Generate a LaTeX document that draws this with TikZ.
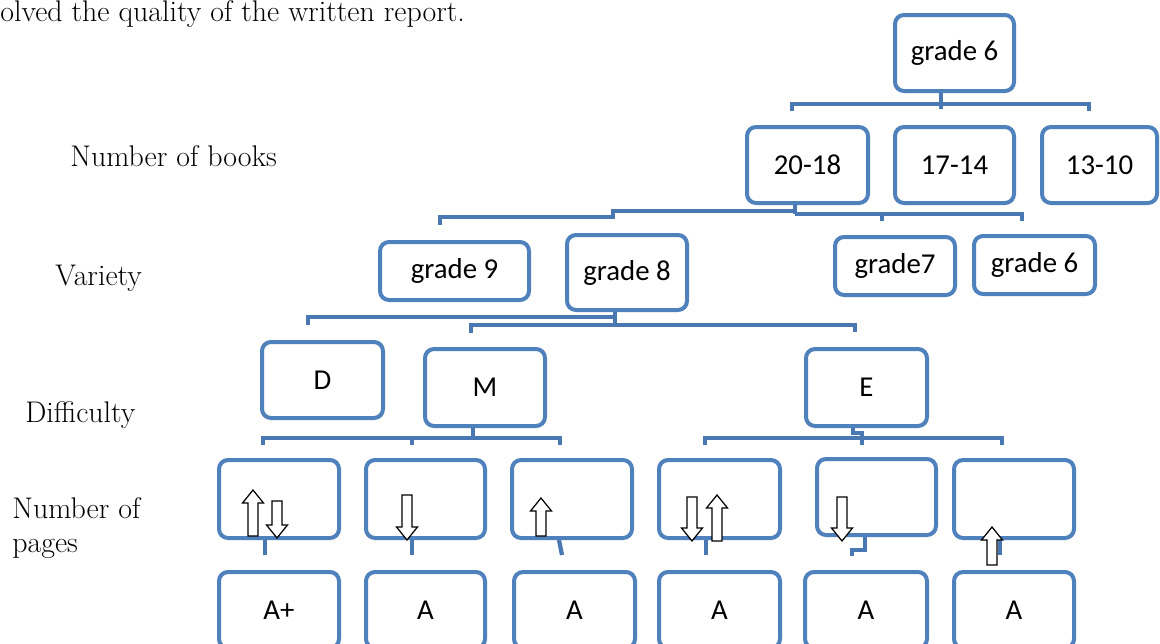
\documentclass[tikz,border=0pt]{standalone}
\usepackage{fontspec}
\newfontfamily\boxfont{Carlito}
\definecolor{boxblue}{RGB}{79,129,189}
\definecolor{connblue}{RGB}{74,120,178}
\tikzset{
  bx/.style 2 args={draw=boxblue, line width=0.08cm, rounded corners=0.18cm, fill=white,
    minimum width=#1*0.02cm, minimum height=#2*0.02cm, inner sep=0pt,
    font=\boxfont\fontsize{16.4}{19}\selectfont},
  conn/.style={draw=connblue, line width=0.085cm},
  lbl/.style={anchor=west, inner sep=0pt, font=\fontsize{17}{19.4}\selectfont, align=left},
  blockarr/.style={draw=black, fill=white, line width=0.7pt, line join=miter}
}
\newcommand{\uarrow}[3]{\draw[blockarr] (#1-5,#2) -- (#1-5,#3+13) -- (#1-10.5,#3+13) -- (#1,#3) -- (#1+10.5,#3+13) -- (#1+5,#3+13) -- (#1+5,#2) -- cycle;}
\newcommand{\darrow}[3]{\draw[blockarr] (#1-5,#2) -- (#1-5,#3-13) -- (#1-10.5,#3-13) -- (#1,#3) -- (#1+10.5,#3-13) -- (#1+5,#3-13) -- (#1+5,#2) -- cycle;}
\begin{document}
\begin{tikzpicture}[x=0.02cm,y=-0.02cm]
\useasboundingbox (0,0) rectangle (1160,643);

% text on the left
\node[lbl, anchor=base west] (top) at (0,21) {olved the quality of the written report.};
\node[lbl] (lbooks) at (70,156) {Number of books};
\node[lbl] (lvar) at (55,278) {Variety};
\node[lbl] (ldiff) at (25,415) {Difficulty};
\node[lbl] (lpages) at (12,528) {Number of\\pages};

% level 1
\node[bx={119}{76}] (g6top) at (954.5,53) {grade 6};
% level 2
\node[bx={121}{76}] (b2018) at (807.5,165) {20-18};
\node[bx={119}{76}] (b1714) at (954.5,165) {17-14};
\node[bx={115}{76}] (b1310) at (1099.5,165) {13-10};
% level 3
\node[bx={149}{58}] (g9) at (454.5,271) {grade 9};
\node[bx={120}{75}] (g8) at (627,272.5) {grade 8};
\node[bx={120}{58}] (g7) at (895,266) {grade7};
\node[bx={121}{58}] (g6b) at (1034.5,265) {grade 6};
% level 4
\node[bx={121}{76}] (dD) at (322.5,380) {D};
\node[bx={120}{77}] (dM) at (485,387.5) {M};
\node[bx={121}{77}] (dE) at (866.5,387.5) {E};
% level 5 (pages)
\node[bx={120}{78}] (p1) at (279,499) {};
\node[bx={119}{78}] (p2) at (425.5,499) {};
\node[bx={120}{78}] (p3) at (572,499) {};
\node[bx={121}{78}] (p4) at (719.5,499) {};
\node[bx={119}{76}] (p5) at (876.5,497) {};
\node[bx={120}{78}] (p6) at (1014,499) {};
% level 6 (grades)
\node[bx={120}{76}] (r1) at (279,610) {A+};
\node[bx={119}{76}] (r2) at (425.5,610) {A};
\node[bx={121}{76}] (r3) at (574.5,610) {A};
\node[bx={121}{76}] (r4) at (719.5,610) {A};
\node[bx={122}{76}] (r5) at (866,610) {A};
\node[bx={120}{76}] (r6) at (1014,610) {A};

% junction coordinates
\coordinate (j1) at (941,104);
\coordinate (j1l) at (792,104);
\coordinate (j1r) at (1089,104);
\coordinate (j2) at (795,211);
\coordinate (j2s) at (613,211);
\coordinate (j2t) at (613,217);
\coordinate (j2l) at (440,217);
\coordinate (j2a) at (795,214);
\coordinate (j2m) at (882,214);
\coordinate (j2r) at (1022,214);
\coordinate (j3) at (615,325);
\coordinate (j3a) at (615,317);
\coordinate (j3l) at (308,317);
\coordinate (j3bl) at (471,325);
\coordinate (j3br) at (855,325);
\coordinate (j4) at (473,438);
\coordinate (j4l) at (263,438);
\coordinate (j4m) at (412,438);
\coordinate (j4r) at (560,438);
\coordinate (j5) at (862,438);
\coordinate (j5l) at (705,438);
\coordinate (j5r) at (1002,438);

% connectors
\draw[conn] (g6top.south -| j1) -- (j1);
\draw[conn] (j1l) ++(0,7) -- (j1l) -- (j1r) -- ++(0,7);
\draw[conn] (j1) -- ++(0,5);

\draw[conn] (b2018.south -| j2) -- (j2a);
\draw[conn] (j2) -- (j2s) -- (j2t) -- (j2l) -- ++(0,8);
\draw[conn] (j2a) -- (j2r) -- ++(0,7);
\draw[conn] (j2m) -- ++(0,7);

\draw[conn] (g8.south -| j3) -- (j3);
\draw[conn] (j3l) ++(0,8) -- (j3l) -- (j3a);
\draw[conn] (j3bl) ++(0,8) -- (j3bl) -- (j3br) -- ++(0,7);

\draw[conn] (dM.south -| j4) -- (j4);
\draw[conn] (j4l) ++(0,7) -- (j4l) -- (j4r) -- ++(0,7);
\draw[conn] (j4m) -- ++(0,7);

\draw[conn] (dE.south -| 853,0) -- (853,433) -- (862,433) -- (j5);
\draw[conn] (j5l) ++(0,7) -- (j5l) -- (j5r) -- ++(0,7);
\draw[conn] (j5) -- ++(0,7);

\draw[conn] (p1.south -| 265,0) -- (265,555);
\draw[conn] (p2.south -| 412,0) -- (412,555);
\draw[conn] (p3.south -| 559,0) -- (562,555);
\draw[conn] (p4.south -| 706,0) -- (706,555);
\draw[conn] (p5.south -| 865,0) -- (865,550) -- (852,550) -- (852,556);
\draw[conn] (p6.south -| 1000,0) -- (1000,555);

% block arrows
\uarrow{253}{536}{490}
\darrow{277}{501}{538}
\darrow{407}{495}{540}
\uarrow{541}{536}{498}
\darrow{692}{497}{541}
\uarrow{717}{541}{495}
\darrow{842}{497}{541}
\uarrow{992}{565}{527}
\end{tikzpicture}
\end{document}
